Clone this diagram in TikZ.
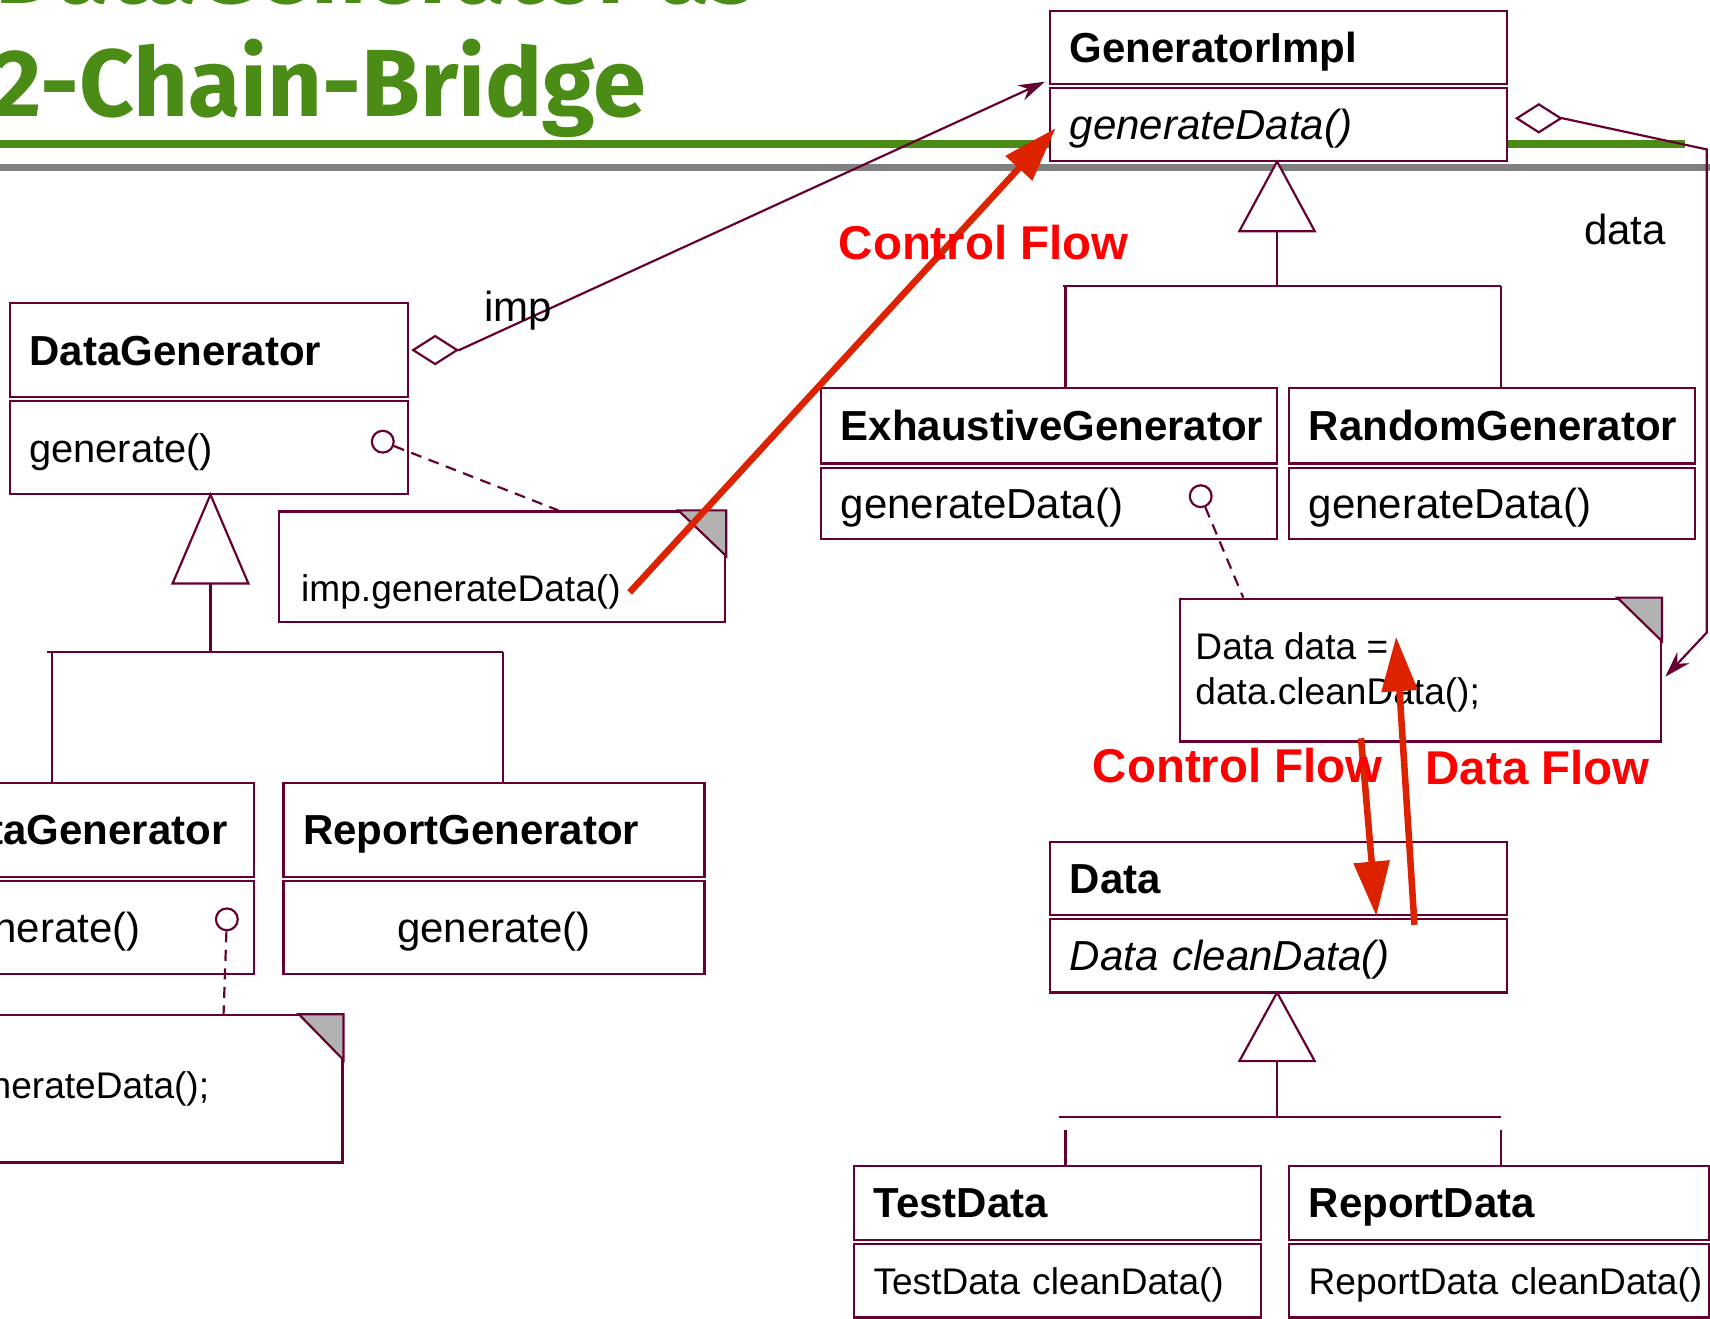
\documentclass[tikz,border=0pt]{standalone}
\usepackage{fontspec}
\setmainfont{Liberation Sans}
\newfontfamily\titlefont{Fira Sans}
\usetikzlibrary{arrows.meta,positioning,calc}
\definecolor{umlred}{RGB}{102,0,51}
\definecolor{flowred}{RGB}{221,34,0}
\definecolor{labelred}{RGB}{255,0,0}
\definecolor{titlegreen}{RGB}{74,140,22}
\definecolor{rulegray}{RGB}{128,128,128}
\definecolor{cornergray}{RGB}{178,178,178}
\hyphenpenalty=10000
\exhyphenpenalty=10000

\begin{document}
\begin{tikzpicture}[
    x=1pt, y=-1pt,
    umlline/.style={draw=umlred, line width=2pt},
    clsbox/.style={draw=umlred, line width=2pt, fill=white, rectangle, anchor=north west, inner xsep=18pt, inner ysep=0pt, align=left, text height=34.6pt, text depth=7.1pt, font=\fontsize{38.5}{44}\selectfont},
    clshead/.style={clsbox, font=\fontsize{38.5}{44}\selectfont\bfseries},
    clsabstract/.style={clsbox, font=\fontsize{38.5}{44}\selectfont\itshape},
    clsmid/.style={clsbox, align=center},
    clssmall/.style={clsbox, text height=30.6pt, text depth=6.3pt, font=\fontsize{34}{40}\selectfont},
    notebox/.style={draw=umlred, line width=2pt, fill=white, rectangle, anchor=north west, inner sep=0pt},
    notecorner/.style={umlline, fill=cornergray},
    notetext/.style={font=\fontsize{34}{41}\selectfont, inner sep=0pt, anchor=base west},
    notelink/.style={umlline, dash pattern=on 10pt off 7pt},
    opdot/.style={circle, draw=umlred, line width=2pt, fill=white, minimum size=20pt, inner sep=0pt},
    inherit/.style={umlline, -{Triangle[length=#1, width=72pt, fill=white]}},
    aggr/.style={umlline, {Diamond[length=44pt, width=28pt, fill=white]}-{Stealth[length=24pt, width=15pt]}},
    assoclabel/.style={font=\fontsize{38.5}{44}\selectfont, inner sep=0pt},
    flow/.style={draw=flowred, line width=6pt, -{Triangle[length=50pt, width=32pt]}},
    flowlabel/.style={text=labelred, font=\fontsize{43.5}{50}\selectfont\bfseries, inner sep=0pt},
    titletext/.style={text=titlegreen, font=\titlefont\bfseries\fontsize{87.5}{100}\selectfont, inner sep=0pt, anchor=base west}
]
    \useasboundingbox (0,0) rectangle (1568,1209);
    \clip (0,0) rectangle (1568,1209);

    % slide title and rules
    \node[titletext] (title1) at (-4,3) {DataGenerator as};
    \node[titletext] (title2) at (-7,107) {2-Chain-Bridge};
    \draw[draw=titlegreen, line width=8pt] (0,132) -- (1545,132);
    \draw[draw=rulegray, line width=7pt] (0,153.5) -- (1568,153.5);

    % abstraction side
    \node[clshead, text width=329pt, minimum height=86pt] (datagen) at (8,277) {DataGenerator};
    \node[clsbox, text width=329pt, minimum height=85pt, font=\fontsize{36.5}{44}\selectfont] (datagen-ops) at ([yshift=-2pt]datagen.south west) {generate()};
    \node[opdot] (datagen-dot) at (351,405) {};
    \node[clshead, text width=350pt, minimum height=86pt] (testgen) at (-154,717) {TestDataGenerator};
    \node[clsmid, text width=350pt, minimum height=85pt] (testgen-ops) at ([yshift=-2pt]testgen.south west) {generate()};
    \node[opdot] (testgen-dot) at (208,843) {};
    \node[clshead, text width=350pt, minimum height=86pt] (repgen) at (259,717) {ReportGenerator};
    \node[clsmid, text width=350pt, minimum height=85pt] (repgen-ops) at ([yshift=-2pt]repgen.south west) {generate()};

    % implementor side
    \node[clshead, text width=383pt, minimum height=67pt] (genimpl) at (962,9) {GeneratorImpl};
    \node[clsabstract, text width=383pt, minimum height=67pt] (genimpl-ops) at ([yshift=-2pt]genimpl.south west) {generateData()};
    \node[clshead, text width=382pt, minimum height=69pt] (exhgen) at (752,355) {ExhaustiveGenerator};
    \node[clsbox, text width=382pt, minimum height=65pt] (exhgen-ops) at ([yshift=-2pt]exhgen.south west) {generateData()};
    \node[opdot] (exhgen-dot) at (1101,455) {};
    \node[clshead, text width=336pt, minimum height=69pt] (randgen) at (1181,355) {RandomGenerator};
    \node[clsbox, text width=336pt, minimum height=65pt] (randgen-ops) at ([yshift=-2pt]randgen.south west) {generateData()};

    % data side
    \node[clshead, text width=383pt, minimum height=67pt] (data) at (962,771) {Data};
    \node[clsabstract, text width=383pt, minimum height=67pt] (data-ops) at ([yshift=-2pt]data.south west) {Data~cleanData()};
    \node[clshead, text width=337pt, minimum height=68pt] (testdata) at (782,1068) {TestData};
    \node[clssmall, text width=337pt, minimum height=67pt] (testdata-ops) at ([yshift=-2pt]testdata.south west) {TestData~cleanData()};
    \node[clshead, text width=349pt, minimum height=68pt] (repdata) at (1181,1068) {ReportData};
    \node[clssmall, text width=349pt, minimum height=67pt] (repdata-ops) at ([yshift=-2pt]repdata.south west) {ReportData~cleanData()};

    % notes
    \node[notebox, minimum width=409pt, minimum height=101pt] (note1) at (255,468) {};
    \draw[notecorner] ([xshift=-44pt]note1.north east) -- (note1.north east) -- ([yshift=-42pt]note1.north east) -- cycle;
    \node[notetext] (note1-text) at (276,552) {imp.generateData()};
    \node[notebox, minimum width=463pt, minimum height=135pt] (note2) at (-150,930) {};
    \draw[notecorner] ([xshift=-41pt]note2.north east) -- (note2.north east) -- ([yshift=-42pt]note2.north east) -- cycle;
    \node[notetext, anchor=base east] (note2-text) at (192,1007) {imp.generateData();};
    \node[notebox, minimum width=441pt, minimum height=131pt] (note3) at (1081,548) {};
    \draw[notecorner] ([xshift=-41pt]note3.north east) -- (note3.north east) -- ([yshift=-40pt]note3.north east) -- cycle;
    \node[notetext] (note3-line1) at (1096,605) {Data data =};
    \node[notetext] (note3-line2) at (1096,646) {data.cleanData();};

    % note links
    \draw[notelink] (datagen-dot) -- ([xshift=257pt]note1.north west);
    \draw[notelink] (testgen-dot) -- ([xshift=355pt]note2.north west);
    \draw[notelink] (exhgen-dot) -- ([xshift=59pt]note3.north west);

    % generalisations
    \coordinate (datagen-fork) at (193,598);
    \coordinate (testgen-drop) at (48,598);
    \coordinate (repgen-drop) at (461,598);
    \draw[umlline] (43,598) -- (461,598);
    \draw[umlline] (testgen-drop) -- (testgen-drop |- testgen.north);
    \draw[umlline] (repgen-drop) -- (repgen-drop |- repgen.north);
    \draw[inherit=85pt] (datagen-fork) -- ([yshift=3pt]datagen-fork |- datagen-ops.south);

    \coordinate (genimpl-fork) at (1171,262);
    \coordinate (exhgen-drop) at (977,262);
    \coordinate (randgen-drop) at (1376,262);
    \draw[umlline] (975,262) -- (1376,262);
    \draw[umlline] (exhgen-drop) -- (exhgen-drop |- exhgen.north);
    \draw[umlline] (randgen-drop) -- (randgen-drop |- randgen.north);
    \draw[inherit=67pt] (genimpl-fork) -- ([yshift=3pt]genimpl-fork |- genimpl-ops.south);

    \coordinate (data-fork) at (1171,1024);
    \coordinate (testdata-drop) at (977,1036);
    \coordinate (repdata-drop) at (1376,1036);
    \draw[umlline] (971,1024) -- (1376,1024);
    \draw[umlline] (testdata-drop) -- (testdata-drop |- testdata.north);
    \draw[umlline] (repdata-drop) -- (repdata-drop |- repdata.north);
    \draw[inherit=66pt] (data-fork) -- ([yshift=3pt]data-fork |- data-ops.south);

    % aggregations
    \draw[aggr] ([xshift=2pt]datagen.east) -- ([xshift=46pt]datagen.east) -- ([xshift=-4pt, yshift=3pt]genimpl.south west);
    \node[assoclabel] (imp-label) at (475,285) {imp};
    \coordinate (data-bend1) at (1565,137);
    \coordinate (data-bend2) at (1565,580);
    \draw[aggr] ([xshift=6pt, yshift=6pt]genimpl-ops.east) -- ([xshift=50pt, yshift=6pt]genimpl-ops.east) -- (data-bend1) -- (data-bend2) -- ([xshift=3pt, yshift=-6pt]note3.east);
    \node[assoclabel] (data-label) at (1490,210) {data};

    % control and data flow
    \draw[flow] ([xshift=8pt]note1-text.east) -- ([xshift=6pt, yshift=-3pt]genimpl-ops.west);
    \node[flowlabel] (flow1-label) at (902,222) {Control Flow};
    \draw[flow] ([xshift=167pt, yshift=4pt]note3.south west) -- ([xshift=300pt]data.south west);
    \draw[flow] ([xshift=335pt, yshift=-8pt]data.south west) -- ([xshift=7pt, yshift=9pt]note3-line1.east);
    \node[flowlabel] (flow2-label) at (1135,702) {Control Flow};
    \node[flowlabel] (flow3-label) at (1410,704) {Data Flow};
\end{tikzpicture}
\end{document}
